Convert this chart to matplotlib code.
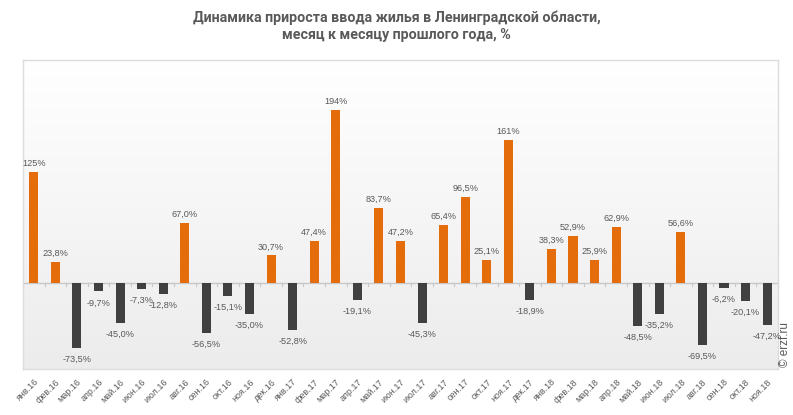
import numpy as np
import matplotlib.pyplot as plt
from matplotlib.colors import LinearSegmentedColormap

# Data
# ===================================
months = ["янв.16", "фев.16", "мар.16", "апр.16", "май.16", "июн.16", "июл.16", "авг.16",
          "сен.16", "окт.16", "ноя.16", "дек.16", "янв.17", "фев.17", "мар.17", "апр.17",
          "май.17", "июн.17", "июл.17", "авг.17", "сен.17", "окт.17", "ноя.17", "дек.17",
          "янв.18", "фев.18", "мар.18", "апр.18", "май.18", "июн.18", "июл.18", "авг.18",
          "сен.18", "окт.18", "ноя.18"]
growth = [125, 23.8, -73.5, -9.7, -45.0, -7.3, -12.8, 67.0,
          -56.5, -15.1, -35.0, 30.7, -52.8, 47.4, 194, -19.1,
          83.7, 47.2, -45.3, 65.4, 96.5, 25.1, 161, -18.9,
          38.3, 52.9, 25.9, 62.9, -48.5, -35.2, 56.6, -69.5,
          -6.2, -20.1, -47.2]

ORANGE = "#E46C0A"
DARK = "#404040"
TEXT = "#595959"
GRID = "#c8c8c8"
FRAME = "#dcdcdc"

plt.rcParams['font.family'] = ['Liberation Sans', 'DejaVu Sans']

fig = plt.figure(figsize=(7.93, 4.15), dpi=100)
ax = fig.add_axes([0.029, 0.111, 0.952, 0.745])

x = np.arange(len(months))
colors = [ORANGE if v >= 0 else DARK for v in growth]
ax.bar(x, growth, width=0.42, color=colors, zorder=3)

ax.set_xlim(-0.5, len(months) - 0.5)
ax.set_ylim(-97, 251)

# gradient background
grad = np.linspace(0, 1, 256).reshape(-1, 1)
ax.imshow(grad, extent=[-0.5, len(months) - 0.5, -97, 251], aspect="auto",
          cmap=LinearSegmentedColormap.from_list("bg", ["#ffffff", "#ececec"]),
          origin="upper", zorder=0)

# zero line with ticks
ax.axhline(0, color=GRID, lw=1, zorder=2)
for b in np.arange(len(months) + 1) - 0.5:
    ax.plot([b, b], [0, -4], color=GRID, lw=0.8, zorder=2, clip_on=False)

for i, v in enumerate(growth):
    txt = f"{v:.0f}%" if abs(v) >= 100 else f"{v:.1f}%".replace(".", ",")
    if v >= 0:
        ax.annotate(txt, (i, v), xytext=(0, 3), textcoords="offset points",
                    ha="center", va="bottom", fontsize=6.6, color=TEXT, zorder=4)
    else:
        ax.annotate(txt, (i, v), xytext=(0, -5), textcoords="offset points",
                    ha="center", va="top", fontsize=6.6, color=TEXT, zorder=4)

for s in ax.spines.values():
    s.set_color(FRAME)
    s.set_linewidth(1)
ax.set_yticks([])
ax.set_xticks(x)
ax.set_xticklabels(months, rotation=45, ha="right", rotation_mode="anchor",
                   fontsize=6.5, color=TEXT)
ax.tick_params(axis="x", length=0, pad=6)

fig.suptitle("Динамика прироста ввода жилья в Ленинградской области,\nмесяц к месяцу прошлого года, %",
             y=0.975, fontsize=10.3, fontweight="bold", color=TEXT, family="Roboto",
             linespacing=1.3)

fig.text(0.99, 0.171, "© erzf.ru", rotation=90, fontsize=8.5, color=TEXT,
         ha="center", va="center")

fig.savefig("out.png", dpi=100)
